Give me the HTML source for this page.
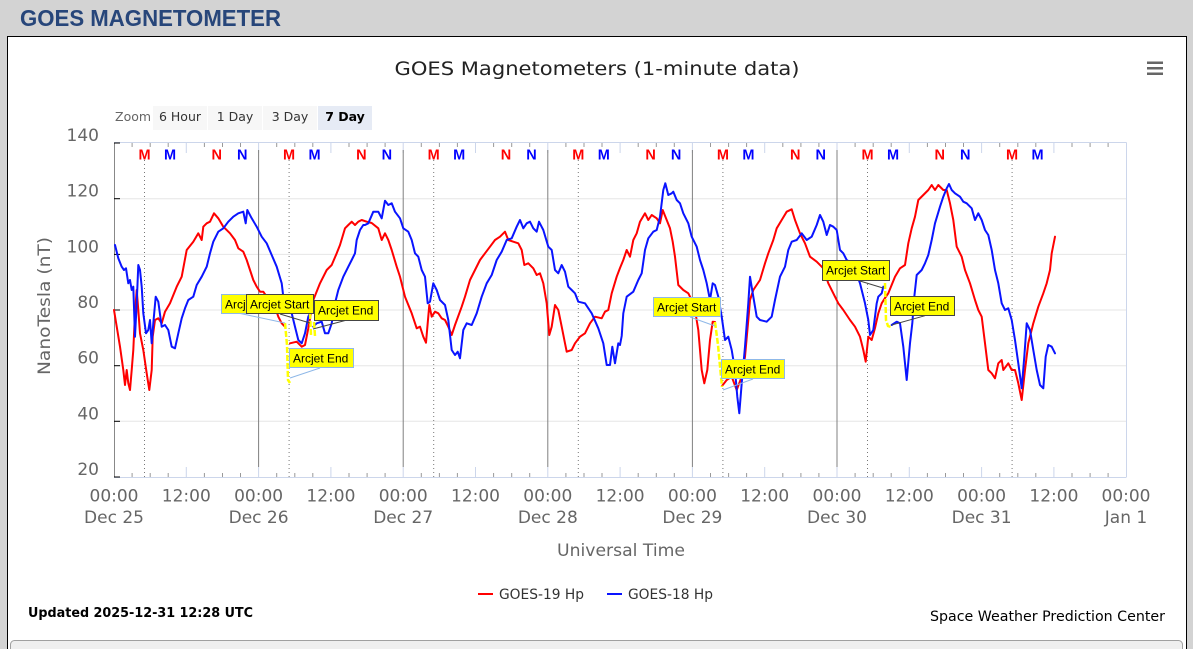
<!DOCTYPE html>
<html><head><meta charset="utf-8"><style>
html,body{margin:0;padding:0;background:#d3d3d3;width:1193px;height:649px;overflow:hidden}
svg{display:block}
</style></head><body>
<svg width="1193" height="649" viewBox="0 0 1193 649" xmlns="http://www.w3.org/2000/svg">
<rect x="0" y="0" width="1193" height="649" fill="#d3d3d3"/>
<text x="20" y="26" font-family="Liberation Sans, Arial, sans-serif" font-weight="bold" font-size="23" fill="#27467a" textLength="261" lengthAdjust="spacingAndGlyphs">GOES MAGNETOMETER</text>
<rect x="7.5" y="36.5" width="1179" height="640" fill="#fff" stroke="#000" stroke-width="1"/>
<rect x="10.5" y="640.5" width="1172" height="30" rx="4" fill="#efefef" stroke="#a0a0a0"/>

<text x="597" y="75" text-anchor="middle" font-family="DejaVu Sans, sans-serif" font-size="19" fill="#222" textLength="405" lengthAdjust="spacingAndGlyphs">GOES Magnetometers (1-minute data)</text>
<g fill="#666"><rect x="1147" y="61.5" width="16" height="2.5"/><rect x="1147" y="67" width="16" height="2.5"/><rect x="1147" y="72.5" width="16" height="2.5"/></g>

<g font-family="DejaVu Sans, sans-serif" font-size="12.5">
<text x="115" y="121" fill="#666">Zoom</text>
<rect x="153" y="106" width="54" height="24" fill="#f7f7f7"/>
<rect x="208" y="106" width="54" height="24" fill="#f7f7f7"/>
<rect x="263" y="106" width="54" height="24" fill="#f7f7f7"/>
<rect x="318" y="106" width="54" height="24" fill="#e6ebf5"/>
<text x="180" y="121" text-anchor="middle" fill="#333">6 Hour</text>
<text x="235" y="121" text-anchor="middle" fill="#333">1 Day</text>
<text x="290" y="121" text-anchor="middle" fill="#333">3 Day</text>
<text x="345" y="121" text-anchor="middle" fill="#000" font-weight="bold">7 Day</text>
</g>

<!-- grid -->
<g stroke="#e6e6e6" stroke-width="1">
<line x1="114" y1="198.7" x2="1126" y2="198.7"/>
<line x1="114" y1="254.4" x2="1126" y2="254.4"/>
<line x1="114" y1="310" x2="1126" y2="310"/>
<line x1="114" y1="365.7" x2="1126" y2="365.7"/>
<line x1="114" y1="421.3" x2="1126" y2="421.3"/>
</g>
<g stroke="#ccd6eb" stroke-width="1">
<line x1="114" y1="142.5" x2="1126.5" y2="142.5"/>
<line x1="1126.5" y1="142.5" x2="1126.5" y2="477"/>
<line x1="114" y1="477.5" x2="1126.5" y2="477.5"/>
</g>
<line x1="114.5" y1="142.5" x2="114.5" y2="477.5" stroke="#888"/>
<g stroke="#000" stroke-width="1">
<line x1="114" y1="143" x2="120" y2="143"/><line x1="114" y1="198.7" x2="120" y2="198.7"/><line x1="114" y1="254.4" x2="120" y2="254.4"/><line x1="114" y1="310" x2="120" y2="310"/><line x1="114" y1="365.7" x2="120" y2="365.7"/><line x1="114" y1="421.3" x2="120" y2="421.3"/><line x1="114" y1="477" x2="120" y2="477"/>
</g>

<!-- ticks -->
<g id="ticks" stroke-width="1">
<path stroke="#999" d="M132.1 143v4M150.2 143v4M168.2 143v4M204.4 143v4M222.5 143v4M240.5 143v4M276.7 143v4M294.8 143v4M312.8 143v4M349 143v4M367.1 143v4M385.1 143v4M421.3 143v4M439.4 143v4M457.4 143v4M493.6 143v4M511.7 143v4M529.7 143v4M565.9 143v4M584 143v4M602 143v4M638.2 143v4M656.3 143v4M674.3 143v4M710.5 143v4M728.6 143v4M746.6 143v4M782.8 143v4M800.9 143v4M818.9 143v4M855.1 143v4M873.2 143v4M891.2 143v4M927.4 143v4M945.5 143v4M963.5 143v4M999.7 143v4M1017.8 143v4M1035.8 143v4M1072 143v4M1090.1 143v4M1108.1 143v4
M132.1 473v4M150.2 473v4M168.2 473v4M204.4 473v4M222.5 473v4M240.5 473v4M276.7 473v4M294.8 473v4M312.8 473v4M349 473v4M367.1 473v4M385.1 473v4M421.3 473v4M439.4 473v4M457.4 473v4M493.6 473v4M511.7 473v4M529.7 473v4M565.9 473v4M584 473v4M602 473v4M638.2 473v4M656.3 473v4M674.3 473v4M710.5 473v4M728.6 473v4M746.6 473v4M782.8 473v4M800.9 473v4M818.9 473v4M855.1 473v4M873.2 473v4M891.2 473v4M927.4 473v4M945.5 473v4M963.5 473v4M999.7 473v4M1017.8 473v4M1035.8 473v4M1072 473v4M1090.1 473v4M1108.1 473v4"/>
<path stroke="#ccd6eb" d="M186.3 143v10M258.6 143v10M330.9 143v10M403.2 143v10M475.5 143v10M547.8 143v10M620.1 143v10M692.4 143v10M764.7 143v10M837 143v10M909.3 143v10M981.6 143v10M1053.9 143v10
M186.3 467v10M258.6 467v10M330.9 467v10M403.2 467v10M475.5 467v10M547.8 467v10M620.1 467v10M692.4 467v10M764.7 467v10M837 467v10M909.3 467v10M981.6 467v10M1053.9 467v10"/>
</g>
<!-- day lines -->
<g stroke="#808080" stroke-width="1">
<line x1="258.6" y1="150" x2="258.6" y2="467"/>
<line x1="403.2" y1="150" x2="403.2" y2="467"/>
<line x1="547.8" y1="150" x2="547.8" y2="467"/>
<line x1="692.4" y1="150" x2="692.4" y2="467"/>
<line x1="837" y1="150" x2="837" y2="467"/>
</g>
<!-- dotted M lines -->
<g stroke="#777" stroke-width="1" stroke-dasharray="1 3">
<line x1="144.5" y1="160" x2="144.5" y2="477"/>
<line x1="289.1" y1="160" x2="289.1" y2="477"/>
<line x1="433.7" y1="160" x2="433.7" y2="477"/>
<line x1="578.3" y1="160" x2="578.3" y2="477"/>
<line x1="722.9" y1="160" x2="722.9" y2="477"/>
<line x1="867.5" y1="160" x2="867.5" y2="477"/>
<line x1="1012.1" y1="160" x2="1012.1" y2="477"/>
</g>
<!-- M/N markers -->
<g font-family="Liberation Sans, Arial, sans-serif" font-weight="bold" font-size="14.5" text-anchor="middle">
<g fill="#ff0000">
<text x="144.5" y="159.5">M</text><text x="289.1" y="159.5">M</text><text x="433.7" y="159.5">M</text><text x="578.3" y="159.5">M</text><text x="722.9" y="159.5">M</text><text x="867.5" y="159.5">M</text><text x="1012.1" y="159.5">M</text>
<text x="216.8" y="159.5">N</text><text x="361.4" y="159.5">N</text><text x="506" y="159.5">N</text><text x="650.6" y="159.5">N</text><text x="795.2" y="159.5">N</text><text x="939.8" y="159.5">N</text>
</g>
<g fill="#0000ff">
<text x="170" y="159.5">M</text><text x="314.6" y="159.5">M</text><text x="459.2" y="159.5">M</text><text x="603.8" y="159.5">M</text><text x="748.4" y="159.5">M</text><text x="893" y="159.5">M</text><text x="1037.6" y="159.5">M</text>
<text x="242.3" y="159.5">N</text><text x="386.9" y="159.5">N</text><text x="531.5" y="159.5">N</text><text x="676.1" y="159.5">N</text><text x="820.7" y="159.5">N</text><text x="965.3" y="159.5">N</text>
</g>
</g>

<!-- y labels -->
<g font-family="DejaVu Sans, sans-serif" font-size="17" fill="#666" text-anchor="end">
<text x="99" y="141">140</text><text x="99" y="196.7">120</text><text x="99" y="252.4">100</text><text x="99" y="308">80</text><text x="99" y="363.7">60</text><text x="99" y="419.3">40</text><text x="99" y="475">20</text>
</g>
<text transform="translate(50,306) rotate(-90)" text-anchor="middle" font-family="DejaVu Sans, sans-serif" font-size="17" fill="#666" textLength="138" lengthAdjust="spacingAndGlyphs">NanoTesla (nT)</text>
<!-- x labels -->
<g font-family="DejaVu Sans, sans-serif" font-size="17" fill="#666" text-anchor="middle">
<text x="114" y="501.5">00:00</text><text x="186.3" y="501.5">12:00</text><text x="258.6" y="501.5">00:00</text><text x="330.9" y="501.5">12:00</text><text x="403.2" y="501.5">00:00</text><text x="475.5" y="501.5">12:00</text><text x="547.8" y="501.5">00:00</text><text x="620.1" y="501.5">12:00</text><text x="692.4" y="501.5">00:00</text><text x="764.7" y="501.5">12:00</text><text x="837" y="501.5">00:00</text><text x="909.3" y="501.5">12:00</text><text x="981.6" y="501.5">00:00</text><text x="1053.9" y="501.5">12:00</text><text x="1126" y="501.5">00:00</text>
<text x="114" y="523">Dec 25</text><text x="258.6" y="523">Dec 26</text><text x="403.2" y="523">Dec 27</text><text x="547.8" y="523">Dec 28</text><text x="692.4" y="523">Dec 29</text><text x="837" y="523">Dec 30</text><text x="981.6" y="523">Dec 31</text><text x="1126" y="523">Jan 1</text>
<text x="621" y="556" textLength="128" lengthAdjust="spacingAndGlyphs">Universal Time</text>
</g>

<!-- series -->
<g fill="none" stroke-width="2" stroke-linejoin="round" stroke-linecap="round">
<polyline stroke="#ff0000" points="114,310 120,346.7 123.3,370 125,385 126.7,370 128.3,383.3 130,390 131.7,370 133.3,350 135,313.3 136.7,290 138.3,310 140,333.3 143.3,350 146.7,373.3 149.3,390 151.7,370 152.7,336.7 155,320 158.3,318.3 161.7,323.3 165,311.7 170,303.3 176.7,286.7 181.7,276.7 186.7,250 193.3,241.7 198.3,233.3 201.7,240 203.3,226.7 206.7,223.3 210,221.7 214,213.3 218.3,218.3 223.3,226.7 230,233.3 235,240 238.3,248.3 243.3,251.7 246.7,260 250,270 253.3,280 256.7,286.7 260,291.7 263.3,291.7 266.7,296.7 270,303.3 275,306.7 278.3,316.7 281.7,323.3 285,326.7"/>
<polyline stroke="#ff0000" points="290,343.3 296.7,341.7 301.7,346.7 305,345 308.3,328.3 313.3,300 320,283.3 326.7,270 331.7,265 336.7,253.3 340,245 345,228.3 348.3,225 351.7,221.7 355,225 358.3,221.7 361.7,220 366.7,221.7 371.7,223 378.3,228.3 381.7,240 385,233.3 388.3,240 391.7,250 396.7,266.7 400,276.7 405,296.7 411.7,313.3 416.7,328.3 420,326.7 423.3,336.7 426,342.7 429.3,305 431.7,316.7 435,311.7 438.3,313.3 441.7,318.3 445,320 448.3,326.7 451.7,335 455,325 461.7,306.7 465,296.7 470,280 475,270 480,260 485,253.3 490,246.7 495,240 500,236.7 505,231.7 508.3,240 513.3,241.7 518.3,243.3 521.7,250 524.3,265 528.3,263.3 533.3,268.3 536.7,275 540,273.3 543.3,283.3 546.7,303.3 549.3,335 551.7,326.7 555,305 558.3,310 561.7,326.7 565,343.3 566.7,351.7 571.7,350 575,343.3 580,336.7 585,333.3 590,323.3 595,316.7 601.7,318.3 605,311.7 608.3,310 611.7,293.3 616.7,276.7 620,268 623.3,260 626.7,250 630,256.7 633.3,240 636.7,233.3 640,221.7 645,213.3 648.3,220 651.7,215 656.7,218.3 660,223.3 662.7,210 666.7,220 670,228.3 672.7,241.7 675,256.7 678.3,285 683.3,290 688.3,293.3 691.7,300 695,310 698.3,330 701.7,370 704.3,383.3 707.3,370 710,340 712.7,321.7 715,322"/>
<polyline stroke="#ff0000" points="722,386 726.7,380 731.7,376.7 736.7,390 741.7,376.7 745,356.7 748.3,320 750,300 753.3,290 760,280 765,263.3 768.3,253.3 773.3,240 776.7,228.3 781.7,220 786.7,211.7 791.7,209.3 795,220 800,233.3 805,243.3 810,256.7 816.7,261.7 823.3,268.3 828.3,283.3 833.3,293.3 838.3,303.3 843.3,310 850,320 855,326.7 860,336.7 863.3,350 865.7,361.7 868.3,336.7 871.7,340 875,328 878.3,313.3 881.7,303.3 885,298 888.3,293.3 895,276.7 900,268.3 905,265 908.3,243.3 911.7,228.3 915,216.7 918.3,200 923.3,195 928.3,190 931.7,185 935,190 938.3,185 943.3,190 946.7,190 950,203.3 953.3,220 956.7,246.7 961.7,256.7 965,270 970,283.3 975,300 978.3,310 981.7,316.7 985,343.3 988.3,370 991.7,373.3 995,378.3 998.3,363.3 1001.7,360 1003.3,370 1008.3,363.3 1011.7,370 1015,370 1018.3,383.3 1021.7,400 1025,370 1028.3,343.3 1033.3,323.3 1038.3,306.7 1043.3,293.3 1046.7,283.3 1050,270 1051.7,253.3 1055,236.7"/>
<polyline stroke="#0a14ff" points="115,245 118.3,258.3 121.7,266.7 124,270 126,268.3 128.3,283.3 130,280 131.7,290 133.3,286.7 135,336.7 136.7,303.3 138.3,265 140,270 141.7,286.7 143.3,313.3 146,333.3 148.3,330 150,320 151.7,343.3 153.3,323.3 155.7,296.7 158.3,301.7 161.7,326.7 165,325 168.3,330 171.7,346.7 175,348.3 178.3,333.3 181.7,318.3 185,308.3 188.3,300 193.3,296.7 196.7,285 201.7,276.7 206.7,266.7 210,253.3 213.3,241.7 218.3,231.7 223.3,228.3 228.3,221.7 233.3,216.7 238.3,213.3 243.3,211.7 245.7,223.3 247.3,210 251.7,218.3 256.7,226.7 261.7,236.7 266.7,243.3 271.7,255 276.7,266.7 281.7,283.3 283.3,296.7 286.7,306.7 291.7,313.3 295,326.7 298.3,340 301.7,343.3 305,333.3 308.3,316.7 310,313"/>
<polyline stroke="#0a14ff" points="313.3,326.7 316.7,323.3 321.7,321.7 325,333.3 328.3,333.3 331.7,323.3 335,303.3 338.3,290 343.3,276.7 348.3,266.7 351.7,260 355,253.3 356.7,240 360,230 363.3,225 365,225 368.3,223.3 373.3,211.7 378.3,211.7 381.7,218.3 385,200.7 388.3,205 391.7,203.3 395,211.7 400,218.3 403.3,228.3 408.3,231.7 411.7,240 415,253.3 418.3,256.7 421.7,270 425,276.7 427.7,303.3 430,301.7 433.3,283.3 436.7,290 440,300 445,305 448.3,320 451.7,350 455,355 457.7,351.7 460,358.3 463.3,330 466.7,323.3 471.7,325 476.7,313.3 481.7,296.7 486.7,283.3 491.7,275 496.7,260 501.7,251.7 506.7,240 511.7,238.3 516.7,226.7 520,220 523.3,228.3 526.7,223.3 530,221.7 533.3,228.3 536.7,231.7 539,221.7 543.3,230 548.3,246.7 551.7,250 555,270 558.3,273.3 561.7,265 565,271.7 568.3,286.7 571.7,290 575,293.3 578.3,301.7 585,303.3 591.7,313.3 598.3,328.3 603.3,343.3 606.7,365 610,365 612.3,346.7 615,363.3 618.3,343.3 620,345 621.7,336 623.3,313.3 626.7,296.7 633.3,291.7 638.3,280 641.7,273.3 645,250 648.3,238.3 653.3,231.7 656.7,230 660,216.7 663.3,190 665.3,183.3 668.3,195 671.7,193.3 673.3,191.7 676.7,200 680,203.3 683.3,213.3 688.3,223.3 691.7,236.7 696.7,246.7 700,260 703.3,270 706.7,283.3 710,300 712.7,283.3 715,285 718.3,296.7 721.7,316.7 725,340 728.3,336.7 731.7,350 735,370 737.3,396.7 739.3,413.3 741.7,383.3 745,346.7 748.3,303.3 750,276.7 753.3,296.7 756.7,316.7 760,320 766.7,321.7 771.7,316.7 775,300 780,276.7 785,266.7 788.3,250 791.7,241.7 796.7,240 801.7,233.3 806.7,240 811.7,236.7 816.7,225 820,215 823.3,221.7 826.7,235 830,225 833.3,226.7 836.7,230 840,250 843.3,253.3 846.7,260 851.7,263.3 856,272 860,283.3 865,303.3 868.3,320 870,335 873.3,330 876.7,303.3 878.3,296.7 881.7,293.3 883.3,286.7"/>
<polyline stroke="#0a14ff" points="891.7,325 896.7,321.7 900,323.3 903.3,346.7 906.7,380 910,343.3 912.3,323.3 914.3,296.7 916.7,275 921.7,270 925,263.3 928.3,255 931.7,240 935,223.3 940,206.7 943.3,196.7 946.7,188.3 949,184 951.7,190 955,193.3 960,196.7 963.3,201.7 966.7,203.3 971.7,208.3 975,220 978.3,213.3 981.7,220 985,230 988.3,235 991.7,250 995,270 998.3,283.3 1001.7,303.3 1005,310 1008.3,308.3 1011.7,320 1015,340 1018.3,363.3 1021.7,388.3 1024.3,356.7 1026.7,323.3 1030,330 1033.3,350 1036.7,370 1040,385 1043.3,388.3 1045.7,356.7 1048.3,345 1051.7,346.7 1055,353.3"/>
</g>
<!-- arcjet yellow -->
<g fill="none" stroke="#ffff00" stroke-width="2.5" stroke-dasharray="6 2">
<polyline points="285,323 287,345 288,380 290,383"/>
<polyline points="310,313 311,335"/>
<polyline points="314,322 315,336"/>
<polyline points="715,322 718,345 722,387"/>
<polyline points="885,283 886,320 888,326 891,327"/>
</g>
<!-- annotations -->
<g stroke-width="1">
<line x1="238" y1="313" x2="285" y2="323" stroke="#8fb8e8"/>
<line x1="280" y1="314" x2="310" y2="323" stroke="#444"/>
<line x1="313" y1="329" x2="347" y2="320" stroke="#444"/>
<line x1="290" y1="378" x2="320" y2="368" stroke="#8fb8e8"/>
<line x1="690" y1="317" x2="715" y2="326" stroke="#8fb8e8"/>
<line x1="723" y1="390" x2="753" y2="379" stroke="#8fb8e8"/>
<line x1="860" y1="281" x2="883" y2="288" stroke="#444"/>
<line x1="891.7" y1="325" x2="925" y2="315.7" stroke="#444"/>
</g>
<g font-family="Liberation Sans, Arial, sans-serif" font-size="12" fill="#000">
<rect x="221.5" y="294.5" width="66" height="19" fill="#ffff00" stroke="#8fb8e8"/>
<text x="225" y="308.5">Arcjet Start</text>
<rect x="246.5" y="294.5" width="67" height="19" fill="#ffff00" stroke="#444"/>
<text x="250" y="308.5">Arcjet Start</text>
<rect x="314.5" y="300.5" width="64" height="20" fill="#ffff00" stroke="#444"/>
<text x="318" y="314.5">Arcjet End</text>
<rect x="289.5" y="348.5" width="64" height="19" fill="#ffff00" stroke="#8fb8e8"/>
<text x="293" y="362.5">Arcjet End</text>
<rect x="653.5" y="297.5" width="67" height="19" fill="#ffff00" stroke="#8fb8e8"/>
<text x="657" y="311.5">Arcjet Start</text>
<rect x="721.5" y="359.5" width="63" height="19" fill="#ffff00" stroke="#8fb8e8"/>
<text x="725" y="373.5">Arcjet End</text>
<rect x="822.5" y="260.5" width="67" height="20" fill="#ffff00" stroke="#444"/>
<text x="826" y="274.5">Arcjet Start</text>
<rect x="890.5" y="296.5" width="64" height="19" fill="#ffff00" stroke="#444"/>
<text x="894" y="310.5">Arcjet End</text>
</g>

<!-- legend -->
<line x1="478" y1="594" x2="493" y2="594" stroke="#ff0000" stroke-width="2"/>
<line x1="607" y1="594" x2="622" y2="594" stroke="#0a14ff" stroke-width="2"/>
<g font-family="DejaVu Sans, sans-serif" font-size="14" fill="#333">
<text x="499" y="599" textLength="85" lengthAdjust="spacingAndGlyphs">GOES-19 Hp</text>
<text x="628" y="599" textLength="85" lengthAdjust="spacingAndGlyphs">GOES-18 Hp</text>
</g>
<text x="28" y="617" font-family="DejaVu Sans, sans-serif" font-weight="bold" font-size="13.5" fill="#000" textLength="225" lengthAdjust="spacingAndGlyphs">Updated 2025-12-31 12:28 UTC</text>
<text x="930" y="621" font-family="DejaVu Sans, sans-serif" font-size="14" fill="#000" textLength="235" lengthAdjust="spacingAndGlyphs">Space Weather Prediction Center</text>
</svg>
</body></html>
